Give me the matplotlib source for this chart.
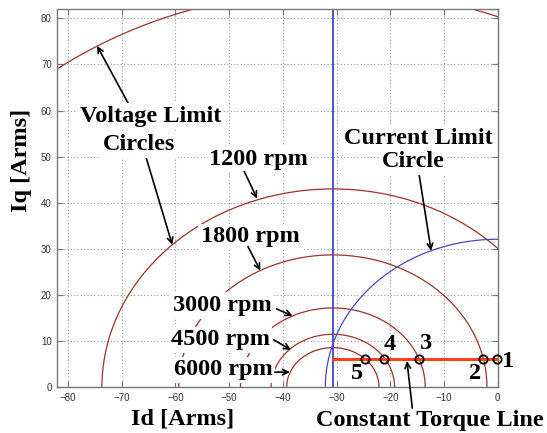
import numpy as np
import matplotlib
matplotlib.use("Agg")
import matplotlib.pyplot as plt

# data
speeds_rpm = [600, 1200, 1800, 3000, 4500, 6000]
volt_radius = [86.0, 43.0, 28.7, 17.2, 11.5, 8.6]
volt_center_id = -30.7
curr_radius = 32.1
torque_iq = 6.2
torque_id_range = [-30.7, 0.0]
point_id = [-0.1, -2.7, -14.6, -21.1, -24.8]
point_names = ["1", "2", "3", "4", "5"]
xticks = [-80, -70, -60, -50, -40, -30, -20, -10, 0]
yticks = [0, 10, 20, 30, 40, 50, 60, 70, 80]

serif = "Liberation Serif"
fs = 17.5
box = dict(facecolor="white", edgecolor="none", pad=2)
arr = dict(arrowstyle="->", color="black", lw=1.2, shrinkA=0, shrinkB=0)

fig = plt.figure(figsize=(5.47, 4.33), dpi=100)
ax = fig.add_axes([0.1048, 0.1055, 0.8051, 0.8737])

th = np.linspace(0, np.pi, 721)
# voltage limit circles
for r in volt_radius:
    ax.plot(volt_center_id + r * np.cos(th), r * np.sin(th), color="#a0302c", lw=0.9)
# current limit circle
ax.plot(curr_radius * np.cos(th), curr_radius * np.sin(th), color="#4848c0", lw=0.9)
ax.axvline(volt_center_id, color="#5050c8", lw=1.4)

# constant torque line and operating points
ax.plot(torque_id_range, [torque_iq, torque_iq], color="#ff4020", lw=2.2)
ax.plot(point_id, [torque_iq] * len(point_id), "o", ms=6, mfc="none",
        mec="black", mew=1.3, clip_on=False, zorder=5)

ax.set_xlim(-82, 0)
ax.set_ylim(0, 82)
ax.set_xticks(xticks)
ax.set_yticks(yticks)
ax.grid(True, color="#999999", ls=(0, (1, 2)), lw=0.8)
ax.tick_params(direction="in", length=4, top=True, right=True, color="#777777",
               labelsize=7, labelcolor="#333333", pad=4)
for s in ax.spines.values():
    s.set_color("#777777")
    s.set_linewidth(1.0)
for lab in ax.get_xticklabels() + ax.get_yticklabels():
    lab.set_family("Liberation Sans")

# labels
ax.text(-64.7, 58.7, "Voltage Limit", fontsize=fs, family=serif, weight="bold",
        ha="center", va="center", bbox=box, zorder=6)
ax.text(-66.7, 52.6, "Circles", fontsize=fs, family=serif, weight="bold",
        ha="center", va="center", bbox=box, zorder=6)
ax.annotate("", xy=(-74.6, 74.0), xytext=(-68.4, 60.7), arrowprops=arr)
ax.annotate("", xy=(-60.6, 30.9), xytext=(-65.7, 50.7), arrowprops=arr)

rpm_text = [("1200 rpm", -44.6, 49.4, (-47.2, 46.8), (-44.8, 40.9)),
            ("1800 rpm", -46.1, 32.6, (-46.5, 30.5), (-44.2, 25.3)),
            ("3000 rpm", -51.3, 17.7, (-41.2, 17.0), (-38.2, 15.5)),
            ("4500 rpm", -51.7, 10.3, (-41.7, 10.3), (-38.5, 8.1)),
            ("6000 rpm", -51.1, 3.8, (-41.5, 3.3), (-38.7, 3.3))]
for t, x, y, a0, a1 in rpm_text:
    ax.text(x, y, t, fontsize=fs, family=serif, weight="bold",
            ha="center", va="center", bbox=box, zorder=6)
    ax.annotate("", xy=a1, xytext=a0, arrowprops=arr, zorder=7)

ax.text(-14.8, 53.9, "Current Limit", fontsize=fs, family=serif, weight="bold",
        ha="center", va="center", bbox=box, zorder=6)
ax.text(-15.8, 48.9, "Circle", fontsize=fs, family=serif, weight="bold",
        ha="center", va="center", bbox=box, zorder=6)
ax.annotate("", xy=(-12.4, 29.6), xytext=(-14.7, 46.6), arrowprops=arr)

num_pos = [(1.9, 5.7), (-4.2, 2.9), (-13.4, 9.4), (-20.1, 9.2), (-26.2, 3.1)]
for n, (x, y) in zip(point_names, num_pos):
    ax.text(x, y, n, fontsize=fs, family=serif, weight="bold",
            ha="center", va="center", clip_on=False, zorder=6)

ax.text(-12.6, -7.1, "Constant Torque Line", fontsize=fs, family=serif,
        weight="bold", ha="center", va="center", clip_on=False)
ax.annotate("", xy=(-16.9, 5.7), xytext=(-15.9, -4.5), arrowprops=arr,
            annotation_clip=False)

fig.text(183 / 547, 1 - 419 / 433, "Id [Arms]", fontsize=fs, family=serif,
         weight="bold", ha="center", va="center")
fig.text(22 / 547, 1 - 160 / 433, "Iq [Arms]", fontsize=fs, family=serif,
         weight="bold", ha="center", va="center", rotation=90)

fig.savefig("out.png", dpi=100)
